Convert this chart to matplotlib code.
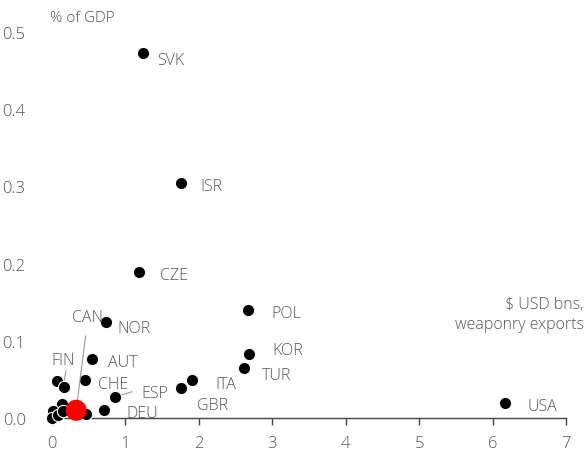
import matplotlib.pyplot as plt
import numpy as np

# data
countries = ['SVK', 'ISR', 'CZE', 'POL', 'NOR', 'KOR', 'TUR', 'ITA', 'GBR',
             'AUT', 'CHE', 'ESP', 'DEU', 'USA', 'FIN', '', '', '', '', '', '', '']
exports = [1.24, 1.76, 1.19, 2.67, 0.74, 2.68, 2.62, 1.91, 1.76,
           0.54, 0.45, 0.86, 0.71, 6.17, 0.07, 0.16, 0.14, 0.01, 0.0, 0.08, 0.15, 0.47]
gdp_share = [0.473, 0.304, 0.189, 0.140, 0.124, 0.083, 0.065, 0.049, 0.039,
             0.076, 0.049, 0.027, 0.010, 0.019, 0.048, 0.040, 0.018, 0.009, 0.0, 0.004, 0.009, 0.005]
can_x, can_y = 0.33, 0.010

# label offsets in points
offsets = {'SVK': (10, -5), 'ISR': (14, -2), 'CZE': (15, -2), 'POL': (17, -2),
           'NOR': (8, -4), 'KOR': (17, 3), 'TUR': (13, -5), 'ITA': (17, -3),
           'GBR': (11, -12), 'AUT': (12, -2), 'CHE': (9, -3), 'ESP': (19, 3),
           'DEU': (16, -2), 'USA': (16, -2), 'FIN': (4, 15)}

grey = '#555555'
plt.rcParams['font.family'] = ['Open Sans', 'DejaVu Sans']
plt.rcParams['font.weight'] = 'light'

fig = plt.figure(figsize=(5.86, 4.52), dpi=100)
ax = fig.add_axes([0.0887, 0.073, 0.8772, 0.854])

ax.scatter(exports, gdp_share, s=78, color='black', edgecolor='white',
           linewidth=0.8, zorder=3, clip_on=False)
ax.scatter([can_x], [can_y], s=230, color='#ff0000', edgecolor='none',
           zorder=4, clip_on=False)

for name, x, y in zip(countries, exports, gdp_share):
    if not name:
        continue
    dx, dy = offsets[name]
    ha = 'center' if name == 'FIN' else 'left'
    ax.annotate(name, (x, y), xytext=(dx, dy), textcoords='offset points',
                ha=ha, va='center', fontsize=11.5, color=grey)

# CAN label with leader line
ax.annotate('CAN', (can_x, can_y), xytext=(0.49, 0.131), textcoords='data',
            ha='center', va='center', fontsize=11.5, color=grey,
            arrowprops=dict(arrowstyle='-', color='#999999', lw=0.8,
                            shrinkA=6, shrinkB=0))
# FIN / CHE leader lines
ax.plot([0.19, 0.16], [0.061, 0.045], color='#999999', lw=0.8)
ax.plot([1.09, 0.88], [0.034, 0.028], color='#999999', lw=0.8)

ax.set_xlim(0, 7)
ax.set_ylim(0, 0.5)
ax.set_xticks(np.arange(0, 8, 1))
ax.set_yticks([0.0, 0.1, 0.2, 0.3, 0.4, 0.5])
ax.set_yticklabels(['0.0', '0.1', '0.2', '0.3', '0.4', '0.5'])

for s in ['top', 'right', 'left']:
    ax.spines[s].set_visible(False)
ax.spines['bottom'].set_color('#444444')
ax.spines['bottom'].set_linewidth(1.0)
ax.tick_params(axis='x', direction='out', length=5, width=1, color='#444444',
               labelsize=12, labelcolor=grey, pad=7)
ax.tick_params(axis='y', length=0, labelsize=12, labelcolor=grey, pad=19)

fig.text(50 / 586, 1 - 18 / 452, '% of GDP', fontsize=11, color=grey,
         ha='left', va='center')
fig.text(584 / 586, 1 - 315 / 452, '$ USD bns,\nweaponry exports', fontsize=11.5,
         color=grey, ha='right', va='center', linespacing=1.3)

fig.savefig('out.png', dpi=100)
